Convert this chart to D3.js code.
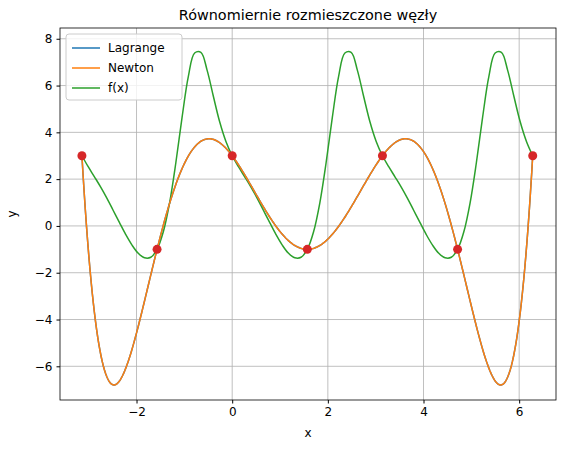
<!DOCTYPE html>
<html><head><meta charset="utf-8">
<script src="https://cdn.jsdelivr.net/npm/d3@7"></script>
<style>body{margin:0;background:#fff;font-family:"DejaVu Sans",sans-serif;}</style>
</head><body><div class="graph"></div>
<script>
const nodeX = [-Math.PI, -Math.PI/2, 0, Math.PI/2, Math.PI, 3*Math.PI/2, 2*Math.PI];
const nodeY = [3, -1, 3, -1, 3, -1, 3];
// f(x), step pi/24 from -pi to 2pi
const fy = [3.00,2.53,2.10,1.66,1.18,0.66,0.14,-0.37,-0.82,-1.17,-1.36,-1.34,-1.00,-0.25,0.99,2.70,4.65,6.39,7.39,7.42,6.65,5.53,4.45,3.61,
            3.00,2.53,2.10,1.66,1.18,0.66,0.14,-0.37,-0.82,-1.17,-1.36,-1.34,-1.00,-0.25,0.99,2.70,4.65,6.39,7.39,7.42,6.65,5.53,4.45,3.61,
            3.00,2.53,2.10,1.66,1.18,0.66,0.14,-0.37,-0.82,-1.17,-1.36,-1.34,-1.00,-0.25,0.99,2.70,4.65,6.39,7.39,7.42,6.65,5.53,4.45,3.61,3.00];
const fx = fy.map((_, i) => -Math.PI + i*Math.PI/24);
const xTicks = [-2, 0, 2, 4, 6];
const yTicks = [-6, -4, -2, 0, 2, 4, 6, 8];

// interpolating polynomial through the nodes
function lagrange(x) {
  let s = 0;
  for (let i = 0; i < nodeX.length; i++) {
    let l = 1;
    for (let j = 0; j < nodeX.length; j++) if (j !== i) l *= (x - nodeX[j]) / (nodeX[i] - nodeX[j]);
    s += nodeY[i] * l;
  }
  return s;
}
const px = d3.range(0, 401).map(i => -Math.PI + i * 3*Math.PI/400);
const poly = px.map(x => [x, lagrange(x)]);

const W = 565, H = 455, m = {top: 28, right: 9, bottom: 55, left: 60};
const w = W - m.left - m.right, h = H - m.top - m.bottom;
const x = d3.scaleLinear().domain([-3.6, 6.77]).range([0, w]);
const y = d3.scaleLinear().domain([-7.44, 8.46]).range([h, 0]);

const svg = d3.select('.graph').append('svg').attr('width', W).attr('height', H)
  .append('g').attr('transform', 'translate(' + m.left + ',' + m.top + ')');

svg.append('g').selectAll('line').data(xTicks).join('line')
  .attr('x1', d => x(d)).attr('x2', d => x(d)).attr('y1', 0).attr('y2', h).attr('stroke', '#b0b0b0').attr('stroke-width', 0.8);
svg.append('g').selectAll('line').data(yTicks).join('line')
  .attr('y1', d => y(d)).attr('y2', d => y(d)).attr('x1', 0).attr('x2', w).attr('stroke', '#b0b0b0').attr('stroke-width', 0.8);

const fmt = d => (d < 0 ? '\u2212' + (-d) : d);
const xa = svg.append('g').attr('transform', 'translate(0,' + h + ')').call(d3.axisBottom(x).tickValues(xTicks).tickFormat(fmt).tickSize(3.5).tickPadding(4));
const ya = svg.append('g').call(d3.axisLeft(y).tickValues(yTicks).tickFormat(fmt).tickSize(3.5).tickPadding(4));
[xa, ya].forEach(a => { a.selectAll('text').attr('font-size', 12).attr('fill', '#000').attr('font-family', 'DejaVu Sans'); a.select('.domain').remove(); });

const line = d3.line().x(d => x(d[0])).y(d => y(d[1]));
svg.append('path').datum(fx.map((v, i) => [v, fy[i]])).attr('d', line.curve(d3.curveCatmullRom)).attr('fill', 'none').attr('stroke', '#2ca02c').attr('stroke-width', 1.5);
line.curve(d3.curveLinear);
svg.append('path').datum(poly).attr('d', line).attr('fill', 'none').attr('stroke', '#1f77b4').attr('stroke-width', 1.5);
svg.append('path').datum(poly).attr('d', line).attr('fill', 'none').attr('stroke', '#ff7f0e').attr('stroke-width', 1.5);
svg.selectAll('circle').data(nodeX).join('circle').attr('cx', d => x(d)).attr('cy', (d, i) => y(nodeY[i])).attr('r', 4.5).attr('fill', '#d62728');

svg.append('rect').attr('width', w).attr('height', h).attr('fill', 'none').attr('stroke', '#000').attr('stroke-width', 0.8);

svg.append('text').attr('x', w/2).attr('y', -8).attr('text-anchor', 'middle').attr('font-size', 14.4).text('Równomiernie rozmieszczone węzły');
svg.append('text').attr('x', w/2).attr('y', h + 37).attr('text-anchor', 'middle').attr('font-size', 12).text('x');
svg.append('text').attr('transform', 'translate(-44,' + (h/2) + ') rotate(-90)').attr('text-anchor', 'middle').attr('font-size', 12).text('y');

const names = ['Lagrange', 'Newton', 'f(x)'], cols = ['#1f77b4', '#ff7f0e', '#2ca02c'];
const lg = svg.append('g').attr('transform', 'translate(6,6)');
lg.append('rect').attr('width', 116).attr('height', 66).attr('rx', 3).attr('fill', '#fff').attr('fill-opacity', 0.8).attr('stroke', '#ccc');
names.forEach((n, i) => {
  lg.append('line').attr('x1', 6).attr('x2', 34).attr('y1', 14 + i*20).attr('y2', 14 + i*20).attr('stroke', cols[i]).attr('stroke-width', 1.5);
  lg.append('text').attr('x', 42).attr('y', 18 + i*20).attr('font-size', 12).text(n);
});
</script></body></html>
